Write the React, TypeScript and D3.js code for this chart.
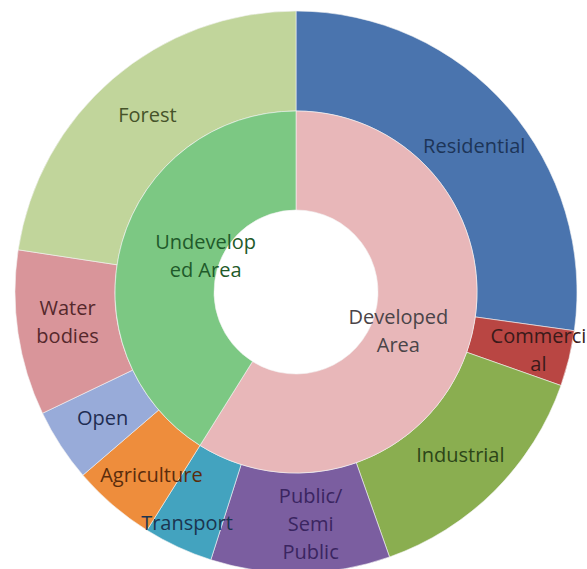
import React from "react";
import * as d3 from "d3";

const innerCategories = ["Developed Area", "Undeveloped Area"];
const innerLabels = [["Developed", "Area"], ["Undevelop", "ed Area"]];
const innerColors = ["#e8b7b9", "#7cc883"];
const innerTextColors = ["#4a4448", "#1f5a2a"];

const outerCategories = ["Residential", "Commercial", "Industrial", "Public/Semi Public", "Transport", "Agriculture", "Open", "Water bodies", "Forest"];
const outerParents = [0, 0, 0, 0, 0, 1, 1, 1, 1];
const outerValues = [27.2, 3.2, 14.2, 10.3, 4.0, 4.8, 4.2, 9.5, 22.6];
const outerLabels = [["Residential"], ["Commerci", "al"], ["Industrial"], ["Public/", "Semi", "Public"], ["Transport"], ["Agriculture"], ["Open"], ["Water", "bodies"], ["Forest"]];
const outerColors = ["#4a74ae", "#b94643", "#8aae50", "#7b5ea0", "#43a3bf", "#ee8d3c", "#98abd9", "#d9959a", "#c1d59b"];
const outerTextColors = ["#1d3558", "#3a1a1a", "#2c4518", "#3a2560", "#1b3550", "#5a2c0c", "#1f2d52", "#55282c", "#46532a"];
const outerNudge: [number, number][] = [[4, 6], [18, 3], [1, 0], [11, 1], [-12, 21], [6, 8], [0, 0], [0, -4], [2, -2]];
const innerNudge: [number, number][] = [[-24, 3], [36, 0]];

const W = 587, H = 569;
const cx = 296, cy = 292;
const rHole = 82, rMid = 181, rOuter = 281;
const fontSize = 20, lineH = 28;

export default function App() {
  const innerValues = innerCategories.map((_, i) =>
    d3.sum(outerValues.filter((_, j) => outerParents[j] === i))
  );
  const pie = d3.pie<number>().sort(null).value((d) => d);
  const innerArcs = pie(innerValues);
  const outerArcs = pie(outerValues);
  const innerArc = d3.arc<d3.PieArcDatum<number>>().innerRadius(rHole).outerRadius(rMid);
  const outerArc = d3.arc<d3.PieArcDatum<number>>().innerRadius(rMid).outerRadius(rOuter);

  const renderLabel = (lines: string[], x: number, y: number, color: string, key: string) => (
    <text key={key} x={x} y={y} textAnchor="middle" fill={color}
      fontFamily="'Open Sans', sans-serif" fontSize={fontSize}>
      {lines.map((l, i) => (
        <tspan key={i} x={x} y={y + (i - (lines.length - 1) / 2) * lineH} dy="0.35em">{l}</tspan>
      ))}
    </text>
  );

  return (
    <svg width={W} height={H} style={{ position: "absolute", left: 0, top: 0, background: "#fff" }}>
      <g transform={`translate(${cx},${cy})`}>
        {outerArcs.map((a, i) => (
          <path key={"o" + i} d={outerArc(a) || ""} fill={outerColors[i]} stroke="#f4f4f4" strokeWidth={0.6} />
        ))}
        {innerArcs.map((a, i) => (
          <path key={"i" + i} d={innerArc(a) || ""} fill={innerColors[i]} stroke="#f4f4f4" strokeWidth={0.6} />
        ))}
        {outerArcs.map((a, i) => {
          const [x, y] = outerArc.centroid(a);
          return renderLabel(outerLabels[i], x + outerNudge[i][0], y + outerNudge[i][1], outerTextColors[i], "ol" + i);
        })}
        {innerArcs.map((a, i) => {
          const [x, y] = innerArc.centroid(a);
          return renderLabel(innerLabels[i], x + innerNudge[i][0], y + innerNudge[i][1], innerTextColors[i], "il" + i);
        })}
      </g>
    </svg>
  );
}
